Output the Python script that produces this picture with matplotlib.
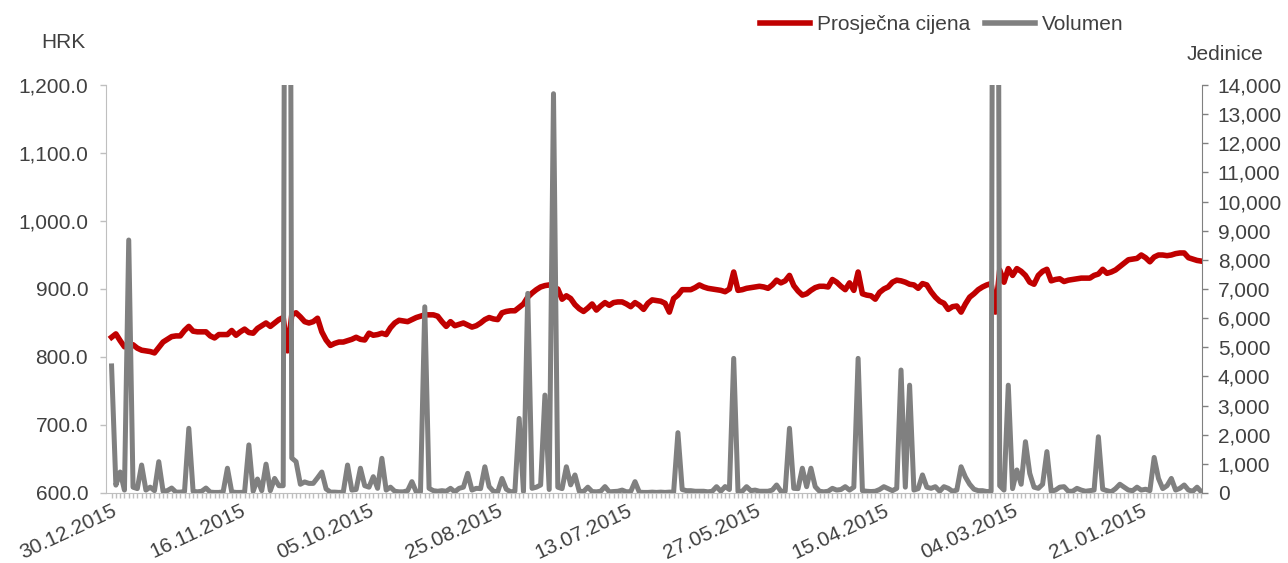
import numpy as np
import matplotlib.pyplot as plt
from matplotlib.lines import Line2D
from matplotlib.ticker import FuncFormatter, MultipleLocator

plt.rcParams['font.family'] = ['Liberation Sans', 'DejaVu Sans']

# ---------------------------------------------------------------------------
# Data (trading days, newest first)
# ---------------------------------------------------------------------------
date_labels = ["30.12.2015", "16.11.2015", "05.10.2015", "25.08.2015", "13.07.2015",
               "27.05.2015", "15.04.2015", "04.03.2015", "21.01.2015"]
label_step = 30

prices = [
    829, 834, 824, 815, 816, 818, 813, 810, 809, 808,
    806, 814, 822, 826, 830, 831, 831, 839, 845, 838,
    837, 837, 837, 831, 828, 833, 833, 833, 839, 832,
    837, 841, 836, 835, 842, 846, 850, 845, 850, 855,
    858, 809, 862, 865, 859, 852, 850, 852, 857, 837,
    825, 817, 820, 822, 822, 824, 826, 829, 826, 825,
    835, 832, 833, 835, 833, 843, 850, 854, 853, 852,
    855, 858, 860, 862, 862, 862, 860, 852, 845, 852,
    846, 848, 850, 847, 844, 846, 850, 855, 858, 856,
    855, 865, 867, 868, 868, 873, 878, 888, 894, 899,
    903, 905, 906, 902, 900, 885, 890, 886, 877, 871,
    867, 872, 878, 869, 875, 880, 876, 880, 881, 881,
    878, 874, 880, 876, 870, 879, 884, 883, 882, 879,
    866, 886, 891, 899, 899, 899, 902, 906, 903, 901,
    900, 899, 898, 896, 900, 925, 898, 899, 901, 902,
    903, 904, 903, 901, 906, 913, 909, 912, 920, 905,
    897, 891, 893, 898, 902, 904, 904, 903, 914, 910,
    904, 899, 909, 898, 925, 893, 891, 890, 885, 895,
    900, 903, 910, 913, 912, 910, 907, 906, 901, 908,
    906, 896, 888, 882, 879, 870, 874, 875, 866, 878,
    888, 893, 899, 903, 906, 908, 866, 928, 910, 930,
    920, 930, 926, 920, 910, 907, 920, 926, 929, 912,
    914, 915, 911, 913, 914, 915, 916, 916, 916, 920,
    922, 929, 923, 925, 928, 933, 938, 943, 944, 945,
    950, 946, 940, 947, 950, 950, 949, 950, 952, 953,
    953, 946, 944, 942, 941,
]

volumes = [
    4360, 270, 720, 100, 8680, 200, 150, 960, 100, 200,
    80, 1075, 60, 80, 170, 30, 30, 50, 2220, 60,
    40, 60, 170, 30, 20, 20, 40, 850, 40, 20,
    20, 30, 1650, 60, 480, 80, 990, 80, 500, 250,
    250, 60000, 1200, 1075, 300, 380, 330, 330, 520, 720,
    140, 30, 30, 20, 30, 960, 100, 120, 850, 250,
    200, 560, 160, 1190, 100, 200, 60, 40, 40, 80,
    390, 40, 40, 6390, 160, 80, 60, 80, 60, 160,
    40, 160, 200, 675, 100, 160, 150, 900, 220, 60,
    40, 500, 130, 40, 60, 2560, 50, 6850, 160, 200,
    275, 3360, 120, 13700, 200, 150, 900, 280, 620, 60,
    50, 200, 50, 40, 60, 220, 40, 50, 60, 100,
    40, 50, 390, 30, 20, 20, 30, 20, 30, 20,
    30, 30, 2070, 120, 80, 80, 60, 60, 60, 40,
    60, 217, 60, 220, 120, 4620, 50, 60, 217, 80,
    100, 60, 60, 60, 100, 275, 60, 60, 2220, 160,
    150, 850, 217, 850, 217, 60, 40, 60, 160, 100,
    120, 217, 100, 200, 4620, 80, 60, 50, 60, 120,
    217, 150, 80, 160, 4220, 200, 3700, 100, 150, 620,
    200, 160, 217, 60, 217, 160, 60, 100, 900, 550,
    300, 130, 80, 80, 50, 60, 60000, 250, 100, 3700,
    150, 790, 300, 1760, 675, 200, 160, 300, 1420, 60,
    100, 200, 217, 60, 60, 160, 100, 60, 80, 100,
    1930, 130, 80, 40, 150, 300, 200, 100, 80, 200,
    100, 130, 80, 1220, 500, 150, 250, 500, 100, 160,
    275, 100, 60, 200, 40,
]

# ---------------------------------------------------------------------------
# Plot
# ---------------------------------------------------------------------------
red = "#C00000"
grey = "#808080"
text_col = "#404040"
axis_col = "#bfbfbf"
fs = 15

W, H = 1288, 563
fig = plt.figure(figsize=(W / 100, H / 100), dpi=100)
ax = fig.add_axes([106 / W, 1 - 493 / H, (1202 - 106) / W, (493 - 85) / H])
ax2 = ax.twinx()

x = np.arange(len(prices))
ax.plot(x, prices, color=red, lw=4.0, solid_joinstyle="round")
ax2.plot(x, volumes, color=grey, lw=3.6, solid_joinstyle="round")

ax.set_xlim(-1.3, len(prices) - 0.85)
ax.set_ylim(600, 1200)
ax2.set_ylim(0, 14000)

ax.yaxis.set_major_locator(MultipleLocator(100))
ax.yaxis.set_major_formatter(FuncFormatter(lambda v, p: f"{v:,.1f}"))
ax2.yaxis.set_major_locator(MultipleLocator(1000))
ax2.yaxis.set_major_formatter(FuncFormatter(lambda v, p: f"{v:,.0f}"))

ticklabels = ["" for _ in x]
for k, lab in enumerate(date_labels):
    ticklabels[k * label_step] = lab
ax.set_xticks(x)
ax.set_xticklabels(ticklabels, rotation=25, ha="right", rotation_mode="anchor",
                   fontsize=fs, color=text_col)

for a in (ax, ax2):
    a.spines["top"].set_visible(False)
ax.spines["right"].set_visible(False)
ax2.spines["left"].set_visible(False)
ax2.spines["bottom"].set_visible(False)
ax.spines["left"].set_color(axis_col)
ax.spines["bottom"].set_color(axis_col)
ax2.spines["right"].set_color(grey)

ax.tick_params(axis="y", direction="out", length=4.3, width=1, color=axis_col,
               labelsize=fs, labelcolor=text_col, pad=8.5)
ax2.tick_params(axis="y", direction="out", length=4.3, width=1, color=grey,
                labelsize=fs, labelcolor=text_col, pad=7)
ax.tick_params(axis="x", direction="out", length=3.6, width=1, color=axis_col, pad=2)

fig.text(41 / W, 1 - 42 / H, "HRK", fontsize=fs, color=text_col, va="center", ha="left")
fig.text(1263 / W, 1 - 55 / H, "Jedinice", fontsize=fs, color=text_col, va="center", ha="right")

handles = [Line2D([], [], color=red, lw=4.0), Line2D([], [], color=grey, lw=4.0)]
fig.legend(handles, ["Prosječna cijena", "Volumen"], loc="center",
           bbox_to_anchor=(942 / W, 1 - 25 / H), ncol=2, frameon=False,
           fontsize=fs, labelcolor=text_col, handlelength=2.4,
           handletextpad=0.35, columnspacing=0.7)

fig.savefig("out.png", dpi=100)
